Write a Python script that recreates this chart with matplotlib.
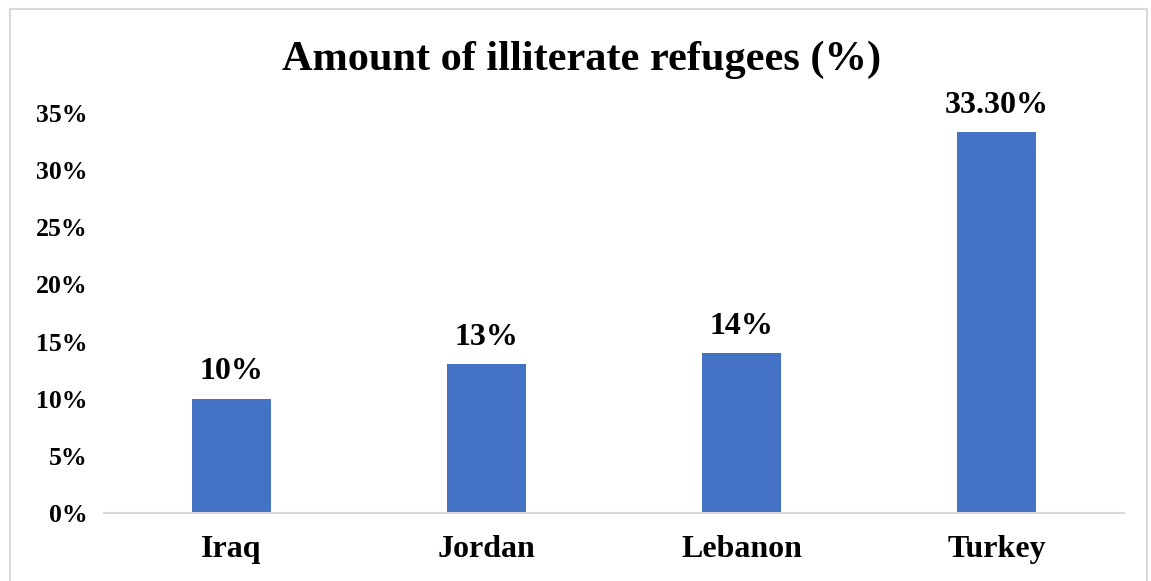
import matplotlib
matplotlib.use("Agg")
import matplotlib.pyplot as plt
from matplotlib.patches import Rectangle
from matplotlib.ticker import FuncFormatter

categories = ["Iraq", "Jordan", "Lebanon", "Turkey"]
values = [10, 13, 14, 33.3]
labels = ["10%", "13%", "14%", "33.30%"]
yticks = [0, 5, 10, 15, 20, 25, 30, 35]

plt.rcParams['font.family'] = ['Liberation Serif', 'DejaVu Serif']
plt.rcParams['font.weight'] = 'bold'

W, H = 1151, 581
fig = plt.figure(figsize=(W/100, H/100), dpi=100)
fig.patches.append(Rectangle((10/W, -0.1), (1147-10)/W, (H-9)/H + 0.1, transform=fig.transFigure,
                             fill=False, edgecolor='#d9d9d9', linewidth=1.5))
ax = fig.add_axes([104/W, (H-513)/H, (1124-104)/W, (513-113)/H])

x = range(len(categories))
bars = ax.bar(x, values, width=0.31, color='#4472C4')
for b, lab in zip(bars, labels):
    ax.annotate(lab, (b.get_x() + b.get_width()/2, b.get_height()), xytext=(0, 9),
                textcoords='offset points', ha='center', va='bottom', fontsize=23, fontweight='bold',
                annotation_clip=False)

ax.set_xlim(-0.5, 3.5)
ax.set_ylim(0, 35)
ax.set_yticks(yticks)
ax.yaxis.set_major_formatter(FuncFormatter(lambda v, p: f"{int(v)}%"))
ax.set_xticks(list(x))
ax.set_xticklabels(categories)
ax.tick_params(axis='y', length=0, pad=12, labelsize=18.5)
ax.tick_params(axis='x', length=0, pad=16, labelsize=23)
for lab in ax.get_xticklabels() + ax.get_yticklabels():
    lab.set_fontweight('bold')
for s in ['top', 'right', 'left']:
    ax.spines[s].set_visible(False)
ax.spines['bottom'].set_color('#d9d9d9')
ax.spines['bottom'].set_linewidth(1.5)

fig.text((280+883)/2/W, 1 - 60/H, "Amount of illiterate refugees (%)", ha='center', va='center',
         fontsize=30.5, fontweight='bold')

fig.savefig("out.png", dpi=100)
